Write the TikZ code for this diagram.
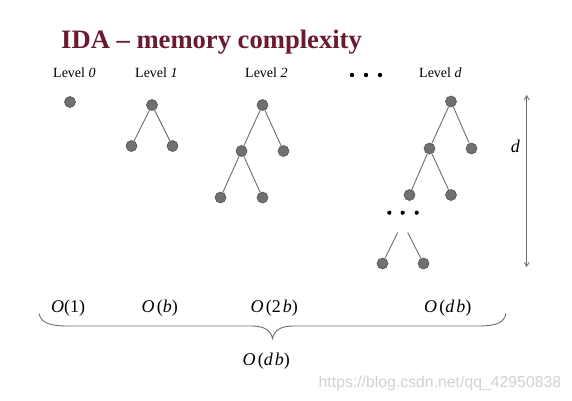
\documentclass[tikz,border=0pt]{standalone}
\usepackage{fontspec}
\setmainfont{Liberation Serif}
\newfontfamily\wmfont{Liberation Sans}
\usetikzlibrary{arrows.meta}
\definecolor{titlecol}{HTML}{6A1B30}
\definecolor{nodefill}{HTML}{707070}
\definecolor{nodedraw}{HTML}{555555}
\definecolor{edgecol}{HTML}{6E6E6E}
\definecolor{wmcol}{HTML}{D2D2D2}
\newcommand{\bigO}[1]{\textit{O}\kern2.2pt(#1)}
\begin{document}
\begin{tikzpicture}[x=1pt,y=-1pt,
  tnode/.style={circle,fill=nodefill,draw=nodedraw,line width=0.6pt,inner sep=0pt,minimum size=11pt},
  tedge/.style={draw=edgecol,line width=0.9pt},
  lvl/.style={anchor=base west,inner sep=0pt,font=\fontsize{14}{16}\selectfont},
  cplx/.style={anchor=base west,inner sep=0pt,font=\fontsize{18}{21}\selectfont},
  dotc/.style={fill=black}
]
\useasboundingbox (0,0) rectangle (572,400);
\fill[white] (0,0) rectangle (572,400);

% title
\node[anchor=base west,inner sep=0pt,text=titlecol,font=\fontsize{26.6}{30}\selectfont\bfseries] (title) at (61,48) {IDA -- memory complexity};

% level labels
\node[lvl] (l0) at (53,77) {Level \textit{0}};
\node[lvl] (l1) at (135,77) {Level \textit{1}};
\node[lvl] (l2) at (245,77) {Level \textit{2}};
\node[lvl] (ld) at (419,77) {Level \textit{d}};
\fill[dotc] (352,75) circle (2.2) (366,75) circle (2.2) (380,75) circle (2.2);

% level 0
\node[tnode] (z0) at (70,102) {};

% level 1
\node[tnode] (a0) at (152,105) {};
\node[tnode] (a1) at (131.5,146) {};
\node[tnode] (a2) at (172.5,146) {};
\draw[tedge] (a0) -- (a1) (a0) -- (a2);

% level 2
\node[tnode] (b0) at (262.5,105) {};
\node[tnode] (b1) at (241.5,151) {};
\node[tnode] (b2) at (283.5,151) {};
\node[tnode] (b3) at (220.5,197.5) {};
\node[tnode] (b4) at (262.5,197.5) {};
\draw[tedge] (b0) -- (b1) (b0) -- (b2) (b1) -- (b3) (b1) -- (b4);

% level d
\node[tnode] (c0) at (451,101.5) {};
\node[tnode] (c1) at (429.5,148.5) {};
\node[tnode] (c2) at (471.5,148.5) {};
\node[tnode] (c3) at (409.5,195) {};
\node[tnode] (c4) at (451,195) {};
\draw[tedge] (c0) -- (c1) (c0) -- (c2) (c1) -- (c3) (c1) -- (c4);
\fill[dotc] (389.3,212.7) circle (2.1) (402.7,212.7) circle (2.1) (416.7,212.7) circle (2.1);
\coordinate (e1) at (397.7,232.5);
\coordinate (e2) at (407.7,232.5);
\node[tnode] (c5) at (382.5,263.5) {};
\node[tnode] (c6) at (423.5,263.5) {};
\draw[tedge] (e1) -- (c5) (e2) -- (c6);

% depth arrow
\coordinate (dt) at (526.7,95);
\coordinate (db) at (526.7,267);
\draw[edgecol,line width=0.8pt,{Straight Barb[length=4pt,width=5pt]}-{Straight Barb[length=4pt,width=5pt]}] (dt) -- (db);
\node[anchor=base,inner sep=0pt,font=\fontsize{18}{20}\selectfont] (dl) at (515.5,152) {\textit{d}};

% complexities
\node[cplx] (o1) at (51,312.5) {\textit{O}(1)};
\node[cplx] (o2) at (141.5,312.5) {\bigO{\textit{b}}};
\node[cplx] (o3) at (250.5,312.5) {\bigO{2\kern2pt\textit{b}}};
\node[cplx] (o4) at (424,312.5) {\bigO{\textit{d}\kern2pt\textit{b}}};
\node[cplx] (o5) at (242.5,365) {\bigO{\textit{d}\kern2pt\textit{b}}};

% brace
\draw[edgecol,line width=0.9pt] (39,313.5) .. controls (41,322.5) and (49,326) .. (68,326) -- (252,326)
  .. controls (265,326) and (271,331) .. (272.5,338.5)
  .. controls (274,331) and (280,326) .. (293,326) -- (478,326)
  .. controls (497,326) and (504,322.5) .. (506,313.5);

% watermark
\node[anchor=base west,inner sep=0pt,text=wmcol,font=\wmfont\fontsize{15.8}{18}\selectfont] (wm) at (318.5,387) {https://blog.csdn.net/qq\_42950838};
\end{tikzpicture}
\end{document}
